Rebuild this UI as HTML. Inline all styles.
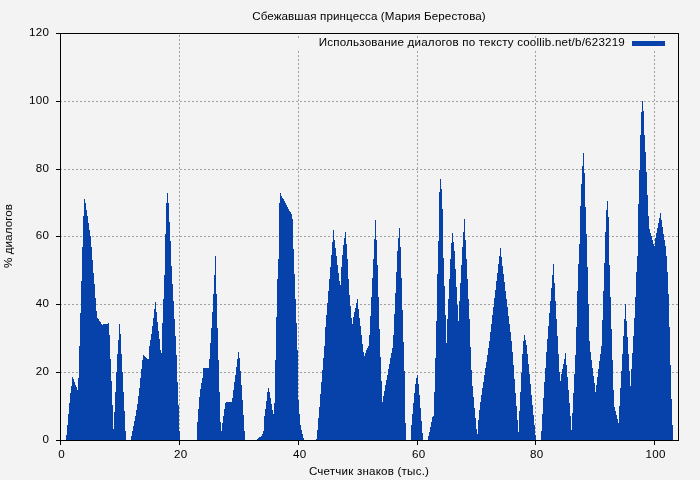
<!DOCTYPE html>
<html><head><meta charset="utf-8"><title>chart</title>
<style>
html,body{margin:0;padding:0;background:#f3f3f3;}
body{width:700px;height:480px;position:relative;overflow:hidden;font-family:"Liberation Sans",sans-serif;color:#000;}
svg{position:absolute;left:0;top:0;}
.t{position:absolute;will-change:transform;font-size:11.6px;line-height:14px;white-space:nowrap;}
.yl{left:0;width:49.3px;text-align:right;letter-spacing:0.3px;}
.xl{top:447px;width:41.3px;text-align:center;letter-spacing:0.3px;}
#title{left:169px;width:400px;top:9px;text-align:center;letter-spacing:0.1px;}
#xlabel{left:169px;width:400px;top:463.5px;text-align:center;letter-spacing:0.2px;}
#legend{left:225px;width:400px;top:35px;text-align:right;letter-spacing:0.2px;}
#ylabel{left:-92.5px;width:200px;top:229px;text-align:center;transform:rotate(-90deg);letter-spacing:0.1px;}
</style></head><body>
<svg width="700" height="480" viewBox="0 0 700 480" shape-rendering="crispEdges">
<g stroke="#a0a0a0" stroke-width="1" stroke-dasharray="2,2" fill="none"><line x1="179.5" y1="441" x2="179.5" y2="34"/><line x1="298.5" y1="441" x2="298.5" y2="34"/><line x1="417.5" y1="441" x2="417.5" y2="34"/><line x1="535.5" y1="441" x2="535.5" y2="34"/><line x1="654.5" y1="441" x2="654.5" y2="34"/><line x1="60" y1="101.5" x2="678" y2="101.5"/><line x1="60" y1="169.5" x2="678" y2="169.5"/><line x1="60" y1="236.5" x2="678" y2="236.5"/><line x1="60" y1="304.5" x2="678" y2="304.5"/><line x1="60" y1="372.5" x2="678" y2="372.5"/></g>
<rect x="298" y="34" width="1" height="17" fill="#f3f3f3"/><rect x="298" y="36" width="1" height="2" fill="#a0a0a0"/><rect x="417" y="34" width="1" height="17" fill="#f3f3f3"/><rect x="417" y="36" width="1" height="2" fill="#a0a0a0"/><rect x="535" y="34" width="1" height="17" fill="#f3f3f3"/><rect x="535" y="36" width="1" height="2" fill="#a0a0a0"/><rect x="654" y="34" width="1" height="17" fill="#f3f3f3"/><rect x="654" y="36" width="1" height="2" fill="#a0a0a0"/><path d="M66,440V435H67V425H68V414H69V403H70V393H71V386H72V377H73V379H74V382H75V385H76V387H77V390H78V378H79V346H80V313H81V281H82V247H83V216H84V199H85V203H86V210H87V216H88V223H89V230H90V236H91V247H92V260H93V273H94V284H95V298H96V311H97V318H98V319H99V321H100V322H101V324H102V325H103V324H108V323H109V335H110V359H111V381H112V405H113V429H114V412H115V392H116V372H117V354H118V340H119V324H120V334H121V354H122V372H123V392H124V411H125V431H126V440ZM131,440V436H132V431H133V426H134V421H135V416H136V410H137V404H138V396H139V388H140V378H141V369H142V360H143V355H144V356H145V357H146V358H147V359H149V346H150V340H151V334H152V326H153V318H154V309H155V302H156V312H157V322H158V331H159V339H160V350H161V353H162V323H163V299H164V275H165V234H166V203H167V193H168V203H169V222H170V241H171V266H172V284H173V301H174V319H175V336H176V355H177V382H178V405H179V431H180V440ZM197,440V422H198V409H199V397H200V389H201V383H202V378H203V368H209V359H210V343H211V328H212V312H213V294H214V275H215V256H216V294H217V328H218V360H219V392H220V422H221V431H222V423H223V416H224V409H225V403H226V402H232V398H233V390H234V382H235V375H236V367H237V359H238V352H239V358H240V371H241V385H242V400H243V415H244V431H245V440ZM257,440V439H258V438H259V437H261V436H262V434H263V431H264V416H265V409H266V401H267V392H268V388H269V392H270V398H271V404H272V410H273V414H274V403H275V360H276V317H277V279H278V259H279V203H280V193H281V196H282V198H283V199H284V201H285V203H286V205H287V207H288V209H289V211H290V212H291V214H292V219H293V249H294V274H295V299H296V323H297V350H298V400H299V414H300V425H301V430H302V434H303V438H304V440ZM316,440V439H317V430H318V418H319V407H320V394H321V382H322V370H323V358H324V346H325V327H326V315H327V303H328V291H329V279H330V267H331V255H332V242H333V230H334V240H335V248H336V256H337V265H338V273H339V281H340V285H341V267H342V255H343V245H344V238H345V232H346V244H347V259H348V279H349V295H350V306H351V318H352V324H353V317H354V312H355V308H356V303H357V299H358V309H359V318H360V326H361V335H362V344H363V352H364V356H365V353H366V350H367V348H368V346H369V335H370V316H371V297H372V278H373V259H374V239H375V220H376V240H377V265H378V297H379V329H380V357H381V381H382V402H383V396H384V391H385V385H386V380H387V375H388V369H389V364H390V358H391V353H392V348H393V335H394V314H395V293H396V272H397V251H398V238H399V228H400V247H401V278H402V310H403V342H404V371H405V423H406V440ZM411,440V425H412V414H413V403H414V393H415V384H416V378H417V375H418V384H419V395H420V408H421V421H422V433H423V440ZM428,440V436H429V432H430V427H431V422H432V417H433V416H434V392H435V358H436V321H437V274H438V241H439V192H440V179H441V189H442V209H443V258H444V286H445V315H446V343H447V319H448V299H449V279H450V259H451V243H452V233H453V242H454V251H455V269H456V287H457V305H458V321H459V301H460V283H461V265H462V247H463V232H464V219H465V240H466V259H467V279H468V299H469V319H470V347H471V370H472V386H473V397H474V408H475V418H476V429H477V434H478V420H479V410H480V402H481V395H482V388H483V382H484V375H485V368H486V362H487V355H488V348H489V341H490V332H491V324H492V315H493V307H494V298H495V290H496V281H497V273H498V264H499V256H500V248H501V257H502V266H503V274H504V282H505V291H506V299H507V307H508V316H509V324H510V332H511V341H512V352H513V365H514V379H515V393H516V406H517V420H518V432H519V411H520V392H521V373H522V354H523V341H524V335H525V340H526V345H527V354H528V364H529V374H530V384H531V395H532V405H533V415H534V425H535V435H536V440ZM541,440V431H542V414H543V398H544V382H545V368H546V352H547V339H548V326H549V313H550V301H551V288H552V275H553V264H554V283H555V301H556V319H557V336H558V354H559V372H560V381H561V374H562V369H563V364H564V359H565V353H566V365H567V377H568V390H569V403H570V416H571V430H572V413H573V393H574V374H575V355H576V327H577V291H578V264H579V244H580V206H581V184H582V166H583V153H584V173H585V207H586V234H587V267H588V304H589V341H590V352H591V360H592V368H593V376H594V383H595V392H596V385H597V377H598V369H599V361H600V354H601V346H602V320H603V291H604V263H605V232H606V210H607V201H608V217H609V265H610V297H611V329H612V360H613V390H614V407H615V411H616V415H617V419H618V423H619V406H620V388H621V371H622V354H623V336H624V319H625V304H626V321H627V337H628V354H629V371H630V386H631V369H632V353H633V336H634V318H635V297H636V272H637V256H638V204H639V170H640V135H641V112H642V101H643V111H644V135H645V152H646V172H647V195H648V216H649V229H650V233H651V236H652V240H653V244H654V246H655V238H656V233H657V228H658V223H659V218H660V213H661V220H662V227H663V234H664V240H665V246H666V256H667V272H668V294H669V327H670V365H671V399H672V425H673V440Z" fill="#0742ab"/>
<rect x="632" y="41" width="33" height="5" fill="#0742ab"/>
<g fill="#000"><rect x="60" y="440" width="1" height="5"/><rect x="179" y="440" width="1" height="5"/><rect x="298" y="440" width="1" height="5"/><rect x="417" y="440" width="1" height="5"/><rect x="535" y="440" width="1" height="5"/><rect x="654" y="440" width="1" height="5"/><rect x="56" y="33" width="5" height="1"/><rect x="56" y="101" width="5" height="1"/><rect x="56" y="169" width="5" height="1"/><rect x="56" y="236" width="5" height="1"/><rect x="56" y="304" width="5" height="1"/><rect x="56" y="372" width="5" height="1"/><rect x="56" y="440" width="5" height="1"/>
<rect x="60" y="33" width="619" height="1"/><rect x="60" y="440" width="619" height="1"/>
<rect x="60" y="33" width="1" height="408"/><rect x="678" y="33" width="1" height="408"/>
</g>
</svg>
<div class="t yl" style="top:25px">120</div><div class="t yl" style="top:93px">100</div><div class="t yl" style="top:161px">80</div><div class="t yl" style="top:228px">60</div><div class="t yl" style="top:296px">40</div><div class="t yl" style="top:364px">20</div><div class="t yl" style="top:432px">0</div><div class="t xl" style="left:41px">0</div><div class="t xl" style="left:160px">20</div><div class="t xl" style="left:279px">40</div><div class="t xl" style="left:398px">60</div><div class="t xl" style="left:516px">80</div><div class="t xl" style="left:635px">100</div>
<div class="t" id="title">Сбежавшая принцесса (Мария Берестова)</div>
<div class="t" id="legend">Использование диалогов по тексту coollib.net/b/623219</div>
<div class="t" id="xlabel">Счетчик знаков (тыс.)</div>
<div class="t" id="ylabel">% диалогов</div>
</body></html>
